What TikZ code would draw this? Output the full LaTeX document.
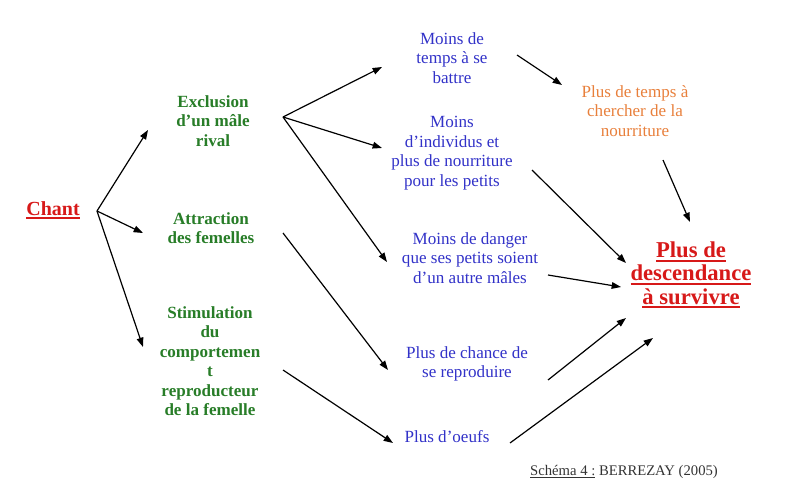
\documentclass[tikz,border=0pt]{standalone}
\usepackage{fontspec}
\setmainfont{Liberation Serif}
\usetikzlibrary{arrows.meta}
\definecolor{cgreen}{RGB}{40,125,40}
\definecolor{cblue}{RGB}{50,50,200}
\definecolor{corange}{RGB}{232,128,60}
\definecolor{cred}{RGB}{215,25,25}
\newcommand{\uline}[1]{\tikz[baseline=(u.base)]{\node[inner sep=0pt,outer sep=0pt] (u) {#1};\draw[line width=1.3pt,cred] ([yshift=-2.2pt]u.base west) -- ([yshift=-2.2pt]u.base east);}}
\begin{document}
\begin{tikzpicture}[x=0.75pt,y=-0.75pt,
  txt/.style={align=center,inner sep=0pt,font=\fontsize{12.8}{14.6}\selectfont},
  gtxt/.style={txt,text=cgreen,font=\fontsize{12.8}{14.6}\selectfont\bfseries},
  btxt/.style={txt,text=cblue},
  otxt/.style={txt,text=corange},
  rtxt/.style={txt,text=cred,font=\fontsize{15}{17.3}\selectfont\bfseries},
  r2txt/.style={txt,text=cred,font=\fontsize{17}{17.3}\selectfont\bfseries},
  arr/.style={-{Triangle[length=7pt,width=5pt]},line width=0.9pt,black}]
\useasboundingbox (0,0) rectangle (800,493);
% nodes
\node[rtxt] (chant) at (53,210) {\uline{Chant}};
\node[gtxt] (excl) at (213,121) {Exclusion\\d'un mâle\\rival};
\node[gtxt] (attr) at (211,228) {Attraction\\des femelles};
\node[gtxt] (stim) at (210,361) {Stimulation\\du\\comportemen\\t\\reproducteur\\de la femelle};
\node[btxt] (temps) at (452,58) {Moins de\\temps à se\\battre};
\node[btxt] (indiv) at (452,153) {Moins\\d'individus et\\plus de nourriture\\pour les petits};
\node[btxt] (danger) at (470,258) {Moins de danger\\que ses petits soient\\d'un autre mâles};
\node[btxt] (chance) at (467,364) {Plus de chance de\\se reproduire};
\node[btxt] (oeufs) at (447,437) {Plus d'oeufs};
\node[otxt] (nourr) at (635,111) {Plus de temps à\\chercher de la\\nourriture};
\node[r2txt] (desc) at (691,275) {\uline{Plus de}\\\uline{descendance}\\\uline{à survivre}};
\node[txt,font=\fontsize{11}{13}\selectfont,text=black!80] (cap) at (624,472) {\underline{Schéma 4 :} BERREZAY (2005)};
% arrow end points
\coordinate (c0) at (97,211);
\coordinate (e1) at (148,130);
\coordinate (e2) at (143,233);
\coordinate (e3) at (143,347);
\coordinate (x0) at (283,117);
\coordinate (x1) at (382,67);
\coordinate (x2) at (382,148);
\coordinate (x3) at (387,262);
\coordinate (a0) at (283,233);
\coordinate (a1) at (388,370);
\coordinate (s0) at (283,370);
\coordinate (s1) at (393,443);
\coordinate (t0) at (517,55);
\coordinate (t1) at (562,85);
\coordinate (n0) at (663,160);
\coordinate (n1) at (690,222);
\coordinate (i0) at (532,170);
\coordinate (i1) at (626,263);
\coordinate (d0) at (548,275);
\coordinate (d1) at (621,287);
\coordinate (h0) at (548,380);
\coordinate (h1) at (626,318);
\coordinate (o0) at (510,443);
\coordinate (o1) at (653,338);
% arrows
\draw[arr] (c0) -- (e1);
\draw[arr] (c0) -- (e2);
\draw[arr] (c0) -- (e3);
\draw[arr] (x0) -- (x1);
\draw[arr] (x0) -- (x2);
\draw[arr] (x0) -- (x3);
\draw[arr] (a0) -- (a1);
\draw[arr] (s0) -- (s1);
\draw[arr] (t0) -- (t1);
\draw[arr] (n0) -- (n1);
\draw[arr] (i0) -- (i1);
\draw[arr] (d0) -- (d1);
\draw[arr] (h0) -- (h1);
\draw[arr] (o0) -- (o1);
\end{tikzpicture}
\end{document}
